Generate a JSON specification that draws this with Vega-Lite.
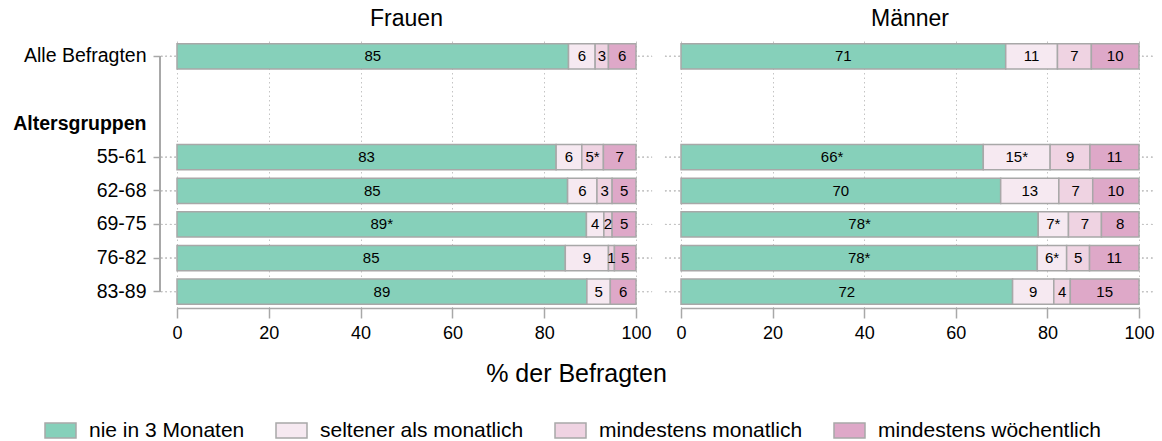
{
  "$schema": "https://vega.github.io/schema/vega-lite/v6.json",
  "padding": {"left": 12, "top": 8, "right": 5, "bottom": 5},
  "background": "white",
  "bounds": "flush",
  "spacing": 45,
  "config": {
    "font": "Liberation Sans",
    "view": {"stroke": null},
    "text": {"color": "black"}
  },
  "resolve": {"scale": {"color": "shared"}, "legend": {"color": "shared"}},
  "data": {
    "values": [
      {"sex": "Frauen", "group": "Alle Befragten", "cat": "nie in 3 Monaten", "order": 1, "value": 85.3, "label": "85"},
      {"sex": "Frauen", "group": "Alle Befragten", "cat": "seltener als monatlich", "order": 2, "value": 5.8, "label": "6"},
      {"sex": "Frauen", "group": "Alle Befragten", "cat": "mindestens monatlich", "order": 3, "value": 2.9, "label": "3"},
      {"sex": "Frauen", "group": "Alle Befragten", "cat": "mindestens wöchentlich", "order": 4, "value": 6.0, "label": "6"},
      {"sex": "Frauen", "group": "55-61", "cat": "nie in 3 Monaten", "order": 1, "value": 82.6, "label": "83"},
      {"sex": "Frauen", "group": "55-61", "cat": "seltener als monatlich", "order": 2, "value": 5.6, "label": "6"},
      {"sex": "Frauen", "group": "55-61", "cat": "mindestens monatlich", "order": 3, "value": 4.7, "label": "5*"},
      {"sex": "Frauen", "group": "55-61", "cat": "mindestens wöchentlich", "order": 4, "value": 7.1, "label": "7"},
      {"sex": "Frauen", "group": "62-68", "cat": "nie in 3 Monaten", "order": 1, "value": 85.1, "label": "85"},
      {"sex": "Frauen", "group": "62-68", "cat": "seltener als monatlich", "order": 2, "value": 6.4, "label": "6"},
      {"sex": "Frauen", "group": "62-68", "cat": "mindestens monatlich", "order": 3, "value": 3.3, "label": "3"},
      {"sex": "Frauen", "group": "62-68", "cat": "mindestens wöchentlich", "order": 4, "value": 5.2, "label": "5"},
      {"sex": "Frauen", "group": "69-75", "cat": "nie in 3 Monaten", "order": 1, "value": 89.2, "label": "89*"},
      {"sex": "Frauen", "group": "69-75", "cat": "seltener als monatlich", "order": 2, "value": 3.8, "label": "4"},
      {"sex": "Frauen", "group": "69-75", "cat": "mindestens monatlich", "order": 3, "value": 1.8, "label": "2"},
      {"sex": "Frauen", "group": "69-75", "cat": "mindestens wöchentlich", "order": 4, "value": 5.2, "label": "5"},
      {"sex": "Frauen", "group": "76-82", "cat": "nie in 3 Monaten", "order": 1, "value": 84.6, "label": "85"},
      {"sex": "Frauen", "group": "76-82", "cat": "seltener als monatlich", "order": 2, "value": 9.4, "label": "9"},
      {"sex": "Frauen", "group": "76-82", "cat": "mindestens monatlich", "order": 3, "value": 1.3, "label": "1"},
      {"sex": "Frauen", "group": "76-82", "cat": "mindestens wöchentlich", "order": 4, "value": 4.7, "label": "5"},
      {"sex": "Frauen", "group": "83-89", "cat": "nie in 3 Monaten", "order": 1, "value": 89.3, "label": "89"},
      {"sex": "Frauen", "group": "83-89", "cat": "seltener als monatlich", "order": 2, "value": 5.1, "label": "5"},
      {"sex": "Frauen", "group": "83-89", "cat": "mindestens wöchentlich", "order": 4, "value": 5.6, "label": "6"},
      {"sex": "Männer", "group": "Alle Befragten", "cat": "nie in 3 Monaten", "order": 1, "value": 70.9, "label": "71"},
      {"sex": "Männer", "group": "Alle Befragten", "cat": "seltener als monatlich", "order": 2, "value": 11.3, "label": "11"},
      {"sex": "Männer", "group": "Alle Befragten", "cat": "mindestens monatlich", "order": 3, "value": 7.4, "label": "7"},
      {"sex": "Männer", "group": "Alle Befragten", "cat": "mindestens wöchentlich", "order": 4, "value": 10.4, "label": "10"},
      {"sex": "Männer", "group": "55-61", "cat": "nie in 3 Monaten", "order": 1, "value": 66.0, "label": "66*"},
      {"sex": "Männer", "group": "55-61", "cat": "seltener als monatlich", "order": 2, "value": 14.6, "label": "15*"},
      {"sex": "Männer", "group": "55-61", "cat": "mindestens monatlich", "order": 3, "value": 8.7, "label": "9"},
      {"sex": "Männer", "group": "55-61", "cat": "mindestens wöchentlich", "order": 4, "value": 10.7, "label": "11"},
      {"sex": "Männer", "group": "62-68", "cat": "nie in 3 Monaten", "order": 1, "value": 69.8, "label": "70"},
      {"sex": "Männer", "group": "62-68", "cat": "seltener als monatlich", "order": 2, "value": 12.7, "label": "13"},
      {"sex": "Männer", "group": "62-68", "cat": "mindestens monatlich", "order": 3, "value": 7.4, "label": "7"},
      {"sex": "Männer", "group": "62-68", "cat": "mindestens wöchentlich", "order": 4, "value": 10.1, "label": "10"},
      {"sex": "Männer", "group": "69-75", "cat": "nie in 3 Monaten", "order": 1, "value": 78.0, "label": "78*"},
      {"sex": "Männer", "group": "69-75", "cat": "seltener als monatlich", "order": 2, "value": 6.6, "label": "7*"},
      {"sex": "Männer", "group": "69-75", "cat": "mindestens monatlich", "order": 3, "value": 7.2, "label": "7"},
      {"sex": "Männer", "group": "69-75", "cat": "mindestens wöchentlich", "order": 4, "value": 8.2, "label": "8"},
      {"sex": "Männer", "group": "76-82", "cat": "nie in 3 Monaten", "order": 1, "value": 77.8, "label": "78*"},
      {"sex": "Männer", "group": "76-82", "cat": "seltener als monatlich", "order": 2, "value": 6.4, "label": "6*"},
      {"sex": "Männer", "group": "76-82", "cat": "mindestens monatlich", "order": 3, "value": 5.0, "label": "5"},
      {"sex": "Männer", "group": "76-82", "cat": "mindestens wöchentlich", "order": 4, "value": 10.8, "label": "11"},
      {"sex": "Männer", "group": "83-89", "cat": "nie in 3 Monaten", "order": 1, "value": 72.4, "label": "72"},
      {"sex": "Männer", "group": "83-89", "cat": "seltener als monatlich", "order": 2, "value": 9.0, "label": "9"},
      {"sex": "Männer", "group": "83-89", "cat": "mindestens monatlich", "order": 3, "value": 3.6, "label": "4"},
      {"sex": "Männer", "group": "83-89", "cat": "mindestens wöchentlich", "order": 4, "value": 15.0, "label": "15"}
    ]
  },
  "hconcat": [
    {
      "width": 459,
      "height": 268,
      "title": {"text": "Frauen", "fontSize": 23, "fontWeight": "normal", "offset": 9, "color": "black"},
      "transform": [
        {"filter": "datum.sex === 'Frauen'"},
        {"stack": "value", "groupby": ["group"], "sort": [{"field": "order", "order": "ascending"}], "as": ["v0", "v1"]},
        {"calculate": "(datum.v0 + datum.v1) / 2", "as": "mid"}
      ],
      "encoding": {
        "y": {
          "field": "group", "type": "nominal",
          "scale": {"domain": ["Alle Befragten", " ", "Altersgruppen", "55-61", "62-68", "69-75", "76-82", "83-89"], "paddingInner": 0.25, "paddingOuter": 0.11},
          "axis": {
            "title": null, "offset": 17, "domain": false,
            "ticks": true, "tickColor": "#a8a8a8", "tickWidth": 1.5, "tickSize": 7,
            "tickOpacity": {"condition": {"test": "datum.value === 'Altersgruppen' || datum.value === ' '", "value": 0}, "value": 1},
            "labelFontWeight": {"condition": {"test": "datum.value === 'Altersgruppen'", "value": "bold"}, "value": "normal"},
            "labelFontSize": 19.5, "labelPadding": 7, "labelColor": "black", "grid": false
          }
        }
      },
      "layer": [
        {
          "mark": {"type": "rule", "strokeDash": [1.5, 3], "color": "#c4c4c4", "strokeWidth": 1},
          "encoding": {
            "x": {"datum": -3.5, "type": "quantitative", "scale": {"domain": [0, 100], "nice": false}},
            "x2": {"datum": 103.5}
          }
        },
        {
          "mark": {"type": "rule", "color": "#a8a8a8", "strokeWidth": 1.5},
          "encoding": {
            "x": {"datum": -3.7, "type": "quantitative"},
            "y": {"datum": "Alle Befragten", "type": "nominal"},
            "y2": {"datum": "83-89"}
          }
        },
        {
          "mark": {"type": "bar", "stroke": "#a8a8a8", "strokeWidth": 1.5},
          "encoding": {
            "x": {
              "field": "v0", "type": "quantitative",
              "scale": {"domain": [0, 100], "nice": false},
              "axis": {
                "values": [0, 20, 40, 60, 80, 100], "grid": true, "gridDash": [1.5, 3], "gridColor": "#c4c4c4",
                "domainColor": "#a8a8a8", "domainWidth": 1.5, "tickColor": "#a8a8a8", "tickWidth": 1.5, "tickSize": 10,
                "labelFontSize": 18, "labelPadding": 6, "labelColor": "black", "labelFlush": false,
                "title": "% der Befragten", "titleFontSize": 25, "titleFontWeight": "normal", "titleColor": "black",
                "titleX": 399, "titlePadding": 19
              }
            },
            "x2": {"field": "v1"},
            "color": {
              "field": "cat", "type": "nominal",
              "scale": {
                "domain": ["nie in 3 Monaten", "seltener als monatlich", "mindestens monatlich", "mindestens wöchentlich"],
                "range": ["#86d0ba", "#f6e9f1", "#efd3e2", "#dea8c8"]
              },
              "legend": {
                "orient": "none", "legendX": -133, "legendY": 374, "direction": "horizontal", "title": null,
                "symbolType": "M-1,-0.48H1V0.48H-1Z", "symbolSize": 961,
                "symbolStrokeColor": "#a8a8a8", "symbolStrokeWidth": 1.5, "symbolOpacity": 1,
                "labelFontSize": 21, "labelOffset": 12, "labelColor": "black", "labelLimit": 400,
                "columnPadding": 28
              }
            }
          }
        },
        {
          "mark": {"type": "text", "fontSize": 15, "color": "black"},
          "encoding": {
            "x": {"field": "mid", "type": "quantitative"},
            "text": {"field": "label"}
          }
        }
      ]
    },
    {
      "width": 458,
      "height": 268,
      "title": {"text": "Männer", "fontSize": 23, "fontWeight": "normal", "offset": 9, "color": "black"},
      "transform": [
        {"filter": "datum.sex === 'Männer'"},
        {"stack": "value", "groupby": ["group"], "sort": [{"field": "order", "order": "ascending"}], "as": ["v0", "v1"]},
        {"calculate": "(datum.v0 + datum.v1) / 2", "as": "mid"}
      ],
      "encoding": {
        "y": {
          "field": "group", "type": "nominal",
          "scale": {"domain": ["Alle Befragten", " ", "Altersgruppen", "55-61", "62-68", "69-75", "76-82", "83-89"], "paddingInner": 0.25, "paddingOuter": 0.11},
          "axis": null
        }
      },
      "layer": [
        {
          "mark": {"type": "rule", "strokeDash": [1.5, 3], "color": "#c4c4c4", "strokeWidth": 1},
          "encoding": {
            "x": {"datum": -3.5, "type": "quantitative", "scale": {"domain": [0, 100], "nice": false}},
            "x2": {"datum": 103.5}
          }
        },
        {
          "mark": {"type": "bar", "stroke": "#a8a8a8", "strokeWidth": 1.5},
          "encoding": {
            "x": {
              "field": "v0", "type": "quantitative",
              "scale": {"domain": [0, 100], "nice": false},
              "axis": {
                "values": [0, 20, 40, 60, 80, 100], "grid": true, "gridDash": [1.5, 3], "gridColor": "#c4c4c4",
                "domainColor": "#a8a8a8", "domainWidth": 1.5, "tickColor": "#a8a8a8", "tickWidth": 1.5, "tickSize": 10,
                "labelFontSize": 18, "labelPadding": 6, "labelColor": "black", "labelFlush": false,
                "title": null
              }
            },
            "x2": {"field": "v1"},
            "color": {
              "field": "cat", "type": "nominal",
              "scale": {
                "domain": ["nie in 3 Monaten", "seltener als monatlich", "mindestens monatlich", "mindestens wöchentlich"],
                "range": ["#86d0ba", "#f6e9f1", "#efd3e2", "#dea8c8"]
              }
            }
          }
        },
        {
          "mark": {"type": "text", "fontSize": 15, "color": "black"},
          "encoding": {
            "x": {"field": "mid", "type": "quantitative"},
            "text": {"field": "label"}
          }
        }
      ]
    }
  ]
}
